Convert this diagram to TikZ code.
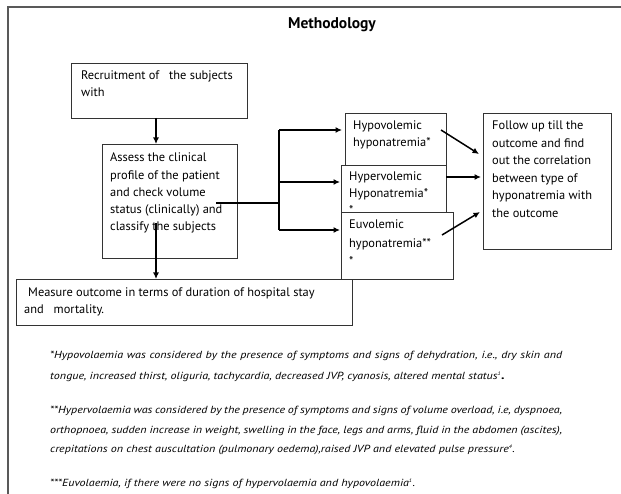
\documentclass[tikz,border=0pt]{standalone}
\usepackage{fontspec}
\setmainfont{PT Sans}
\newfontfamily\footfont[FakeStretch=1.17]{PT Sans}
\usetikzlibrary{arrows.meta,calc}
\begin{document}
\begin{tikzpicture}[x=1pt,y=-1pt,
  box/.style={draw=black!80, line width=0.8pt, fill=white, inner sep=0pt, rectangle, anchor=north west},
  txt/.style={anchor=north west, inner sep=0pt, align=left, font=\fontsize{12.4}{17}\selectfont},
  arr/.style={line width=1.5pt, -{Latex[length=6.5pt,width=6pt]}},
  ln/.style={line width=1.5pt},
  foot/.style={anchor=base west, inner sep=0pt, font=\footfont\fontsize{10.3}{12}\selectfont\itshape},
  frame/.style={draw=black!65, line width=1.4pt}
]
\useasboundingbox (0,0) rectangle (621,494);
\fill[white] (0,0) rectangle (621,494);
\draw[frame] (8,494) -- (8,7) -- (621,7);
\node[font=\fontsize{15.5}{17}\selectfont\bfseries] (title) at (332,25) {Methodology};

% boxes
\node[box, minimum width=176pt, minimum height=55pt] (recr) at (71,63) {};
\node[txt] (recrt) at (81,67.6) {\strut Recruitment of\ \ \ the subjects\\with};

\node[box, minimum width=135pt, minimum height=114pt] (assess) at (102,144) {};
\node[txt, font=\fontsize{12.4}{17.3}\selectfont] (assesst) at (110,149.4) {\strut Assess the clinical\\profile of the patient\\and check volume\\status (clinically) and\\classify the subjects};

\node[box, minimum width=336pt, minimum height=46pt] (meas) at (16,279) {};
\node[txt] (meast) at (24,284.6) {\strut\hspace{4pt}Measure outcome in terms of duration of hospital stay\\and\ \ \ mortality.};

\node[box, minimum width=101pt, minimum height=52pt] (hypo) at (345,113) {};
\node[txt] (hypot) at (353,117.6) {\strut Hypovolemic\\hyponatremia*};

\node[box, minimum width=105pt, minimum height=47pt] (hyper) at (341,165) {};
\node[txt] (hypert) at (349,168.6) {\strut Hypervolemic\\Hyponatremia*\\*};

\node[box, minimum width=112pt, minimum height=67pt] (euvo) at (341,212) {};
\node[txt, font=\fontsize{12.4}{18.5}\selectfont] (euvot) at (349,215.5) {\strut Euvolemic\\hyponatremia**\\*};

\node[box, minimum width=128pt, minimum height=136pt] (follow) at (483,113) {};
\node[txt, font=\fontsize{12.4}{17.5}\selectfont] (followt) at (492,117.3) {\strut Follow up till the\\outcome and find\\out the correlation\\between type of\\hyponatremia with\\the outcome};

% connectors
\coordinate (c1) at (156,118);
\coordinate (c2) at (156,144);
\draw[arr] (c1) -- (c2);
\coordinate (c3) at (156,223);
\draw[arr] (c3) -- (meas.north -| c3);

\coordinate (h0) at (216,203);
\coordinate (hb) at (279,203);
\coordinate (bt) at (279,130);
\coordinate (bm) at (279,182);
\coordinate (bb) at (279,230);
\draw[ln] (h0) -- (hb);
\draw[ln] (bt) -- (bb);
\draw[arr] (bt) -- ($(hypo.west |- bt)+(-3,0)$);
\draw[arr] (bm) -- ($(hyper.west |- bm)+(-1,0)$);
\draw[arr] (bb) -- ($(euvo.west |- bb)+(-1,0)$);

\coordinate (f1) at (441,130);
\coordinate (f1e) at (479,154);
\coordinate (f2) at (446,177);
\coordinate (f2e) at (481,177);
\coordinate (f3) at (442,235);
\coordinate (f3e) at (480,212);
\draw[arr] (f1) -- (f1e);
\draw[arr] (f2) -- (f2e);
\draw[arr] (f3) -- (f3e);

% footnotes
\node[foot] (n1) at (50,358.5) {\makebox[512pt][s]{*Hypovolaemia was considered by the presence of symptoms and signs of dehydration, i.e., dry skin and}};
\node[foot] (n2) at (50,379.5) {tongue, increased thirst, oliguria, tachycardia, decreased JVP, cyanosis, altered mental status\textsuperscript{\fontsize{5}{5}\selectfont 1}{\upshape\bfseries\fontsize{12}{12}\selectfont .}};
\node[foot] (n3) at (50,413.5) {\makebox[512pt][s]{**Hypervolaemia was considered by the presence of symptoms and signs of volume overload, i.e, dyspnoea,}};
\node[foot] (n4) at (50,433.5) {\makebox[512pt][s]{orthopnoea, sudden increase in weight, swelling in the face, legs and arms, fluid in the abdomen (ascites),}};
\node[foot] (n5) at (50,452.5) {crepitations on chest auscultation (pulmonary oedema),raised JVP and elevated pulse pressure\textsuperscript{\fontsize{5}{5}\selectfont 4}.};
\node[foot] (n6) at (50,486.5) {***Euvolaemia, if there were no signs of hypervolaemia and hypovolaemia\textsuperscript{\fontsize{5}{5}\selectfont 1}.};
\end{tikzpicture}
\end{document}
